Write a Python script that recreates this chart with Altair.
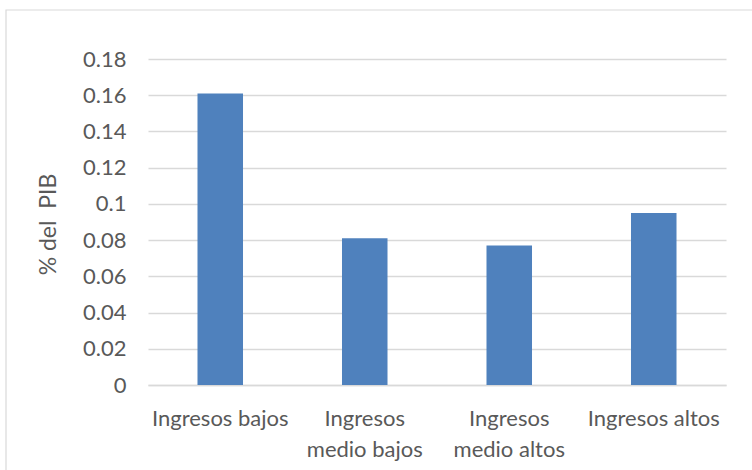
import altair as alt
import pandas as pd

categories = ["Ingresos bajos", "Ingresos\nmedio bajos", "Ingresos\nmedio altos", "Ingresos altos"]
values = [0.161, 0.081, 0.077, 0.095]
y_ticks = [0, 0.02, 0.04, 0.06, 0.08, 0.1, 0.12, 0.14, 0.16, 0.18]
y_title = "% del\u00a0\u00a0PIB"

df = pd.DataFrame({"cat": categories, "val": values})

FONT = "Lato"
GREY = "#595959"
GRID = "#D9D9D9"

W, H = 578, 326
LEFT, TOP = 148, 59

border = alt.Chart(pd.DataFrame({"a": [0]})).mark_rect(
    fill=None, stroke=GRID, strokeWidth=1.2
).encode(
    x=alt.value(6 - LEFT), x2=alt.value(800), y=alt.value(10 - TOP), y2=alt.value(600)
)

bars = alt.Chart(df).mark_bar(color="#4F81BD").encode(
    x=alt.X("cat:N", sort=categories,
            scale=alt.Scale(paddingInner=0.685, paddingOuter=0.3425),
            axis=alt.Axis(title=None, labelAngle=0, labelFont=FONT, labelFontSize=22,
                          labelColor=GREY, ticks=False, domain=True, domainColor=GRID,
                          domainWidth=1.5, labelPadding=23, labelLineHeight=31,
                          labelExpr="split(datum.label, '\\n')", labelBaseline="top")),
    y=alt.Y("val:Q", scale=alt.Scale(domain=[0, 0.18], nice=False),
            axis=alt.Axis(title=y_title, values=y_ticks, format=".2~f",
                          labelFont=FONT, labelFontSize=22, labelColor=GREY,
                          ticks=False, domain=False, gridColor=GRID, gridWidth=1.5,
                          labelPadding=22, titleFont=FONT, titleFontSize=23,
                          titleFontWeight="normal", titleColor=GREY,
                          titleX=-100, titleY=H / 2 + 2, titleAngle=-90,
                          titleAlign="center", titleBaseline="middle")),
)

chart = alt.layer(border, bars).properties(
    width=W, height=H,
    autosize=alt.AutoSizeParams(type="none"),
    padding={"left": LEFT, "top": TOP, "right": 752 - LEFT - W, "bottom": 470 - TOP - H},
    background="white",
).configure_view(stroke=None)

chart.save("out.html", embed_options={"renderer": "svg", "actions": False})
